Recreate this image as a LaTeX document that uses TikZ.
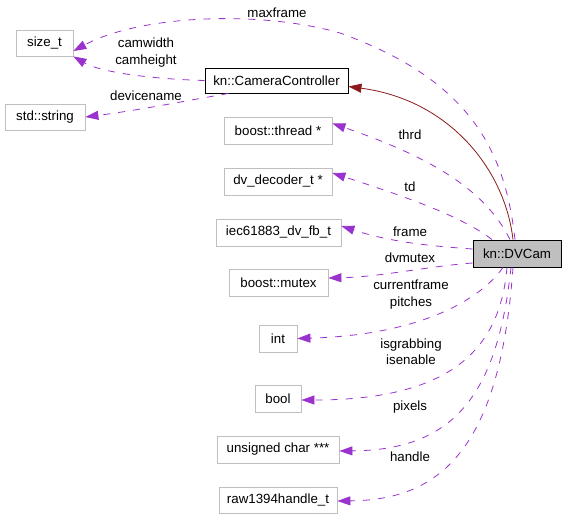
\documentclass[tikz,border=0pt]{standalone}
\usepackage{fontspec}
\setmainfont{Liberation Sans}
\usetikzlibrary{arrows.meta}
\definecolor{edgepurple}{HTML}{9A32CD}
\definecolor{inhred}{HTML}{8B1A1A}
\definecolor{boxgray}{HTML}{BFBFBF}
\tikzset{
  cls/.style={draw=boxgray, line width=0.8pt, inner sep=0pt, align=center, font=\fontsize{13.3}{16}\selectfont},
  mainbox/.style={draw=black, line width=0.9pt, inner sep=0pt, align=center, font=\fontsize{13.3}{16}\selectfont},
  lbl/.style={inner sep=0pt, align=center, font=\fontsize{13.3}{16.5}\selectfont},
  use/.style={draw=edgepurple, line width=0.8pt, dash pattern=on 7pt off 8pt, -{Triangle[length=13pt,width=9pt,fill=edgepurple]}},
  inh/.style={draw=inhred, line width=0.8pt, -{Triangle[length=13pt,width=9pt,fill=inhred]}}
}
\begin{document}
\begin{tikzpicture}[x=1pt,y=-1pt]
\useasboundingbox (0,0) rectangle (565,519);
% nodes
\node[cls, minimum width=57pt, minimum height=26pt] (size) at (44.5,43) {size\_t};
\node[cls, minimum width=80pt, minimum height=26pt] (str) at (45,117) {std::string};
\node[mainbox, minimum width=143pt, minimum height=25pt] (cc) at (276.5,80.5) {kn::CameraController};
\node[cls, minimum width=108pt, minimum height=27pt] (thread) at (278,130.5) {boost::thread *};
\node[cls, minimum width=108pt, minimum height=27pt] (dec) at (278,181.5) {dv\_decoder\_t *};
\node[cls, minimum width=125pt, minimum height=27pt] (iec) at (278.5,232.5) {iec61883\_dv\_fb\_t};
\node[cls, minimum width=99pt, minimum height=27pt] (mutex) at (278.5,282.5) {boost::mutex};
\node[mainbox, fill=boxgray, minimum width=88pt, minimum height=27pt] (dv) at (517,253.5) {kn::DVCam};
\node[cls, minimum width=38pt, minimum height=27pt] (int) at (278,338.5) {int};
\node[cls, minimum width=46pt, minimum height=27pt] (bool) at (278,398.5) {bool};
\node[cls, minimum width=122pt, minimum height=27pt] (uchar) at (278,449.5) {unsigned char ***};
\node[cls, minimum width=118pt, minimum height=26pt] (raw) at (278,500) {raw1394handle\_t};
% labels
\node[lbl] (lmax) at (277,13) {maxframe};
\node[lbl] (lcam) at (146,52.5) {camwidth\\camheight};
\node[lbl] (ldev) at (146,96) {devicename};
\node[lbl] (lthrd) at (410,135) {thrd};
\node[lbl] (ltd) at (410,187) {td};
\node[lbl] (lframe) at (410,232) {frame};
\node[lbl] (ldvm) at (410,258) {dvmutex};
\node[lbl] (lcur) at (411,294.5) {currentframe\\pitches};
\node[lbl] (lgrab) at (411,351.5) {isgrabbing\\isenable};
\node[lbl] (lpix) at (410,407) {pixels};
\node[lbl] (lhandle) at (410,457) {handle};
% edges
\draw[inh] ([xshift=-4pt]dv.north) .. controls (505,170) and (450,100) .. ([yshift=-6pt]cc.east);
\draw[use] ([xshift=-2pt]dv.north) .. controls (505,150) and (470,80) .. (340,33) .. controls (260,10) and (140,15) .. ([yshift=-8pt]size.east);
\draw[use] (cc.west) .. controls (150,79) and (100,72) .. (size.south east);
\draw[use] ([xshift=-48pt]cc.south) .. controls (190,100) and (140,110) .. (str.east);
\draw[use] ([xshift=-7pt]dv.north) .. controls (488,195) and (440,160) .. ([yshift=7pt]thread.east);
\draw[use] ([xshift=-25pt]dv.north) .. controls (460,215) and (400,195) .. ([yshift=8.5pt]dec.east);
\draw[use] ([yshift=4.5pt]dv.west) .. controls (430,246) and (390,242) .. ([yshift=6.5pt]iec.east);
\draw[use] ([yshift=-9.5pt]dv.west) .. controls (430,266) and (380,277) .. ([yshift=4.5pt]mutex.east);
\draw[use] ([xshift=-14pt]dv.south) .. controls (480,300) and (420,335) .. (int.east);
\draw[use] ([xshift=-10pt]dv.south) .. controls (500,350) and (450,400) .. ([yshift=-1.5pt]bool.east);
\draw[use] ([xshift=-6pt]dv.south) .. controls (497,400) and (450,450) .. ([yshift=-1.5pt]uchar.east);
\draw[use] ([xshift=-4pt]dv.south) .. controls (500,450) and (440,500) .. ([yshift=-1pt]raw.east);
\end{tikzpicture}
\end{document}
